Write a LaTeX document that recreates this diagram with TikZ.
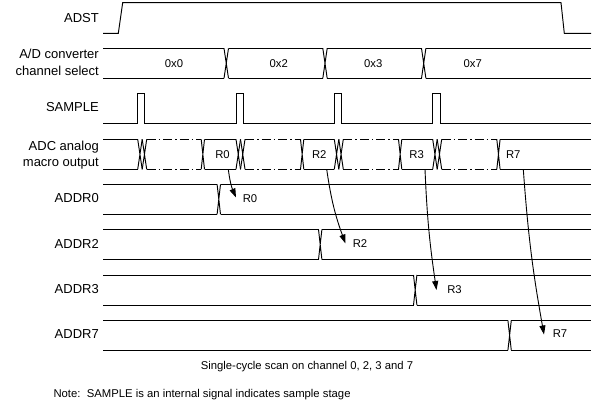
\documentclass[tikz,border=0pt]{standalone}
\usepackage{fontspec}
\setmainfont{Liberation Sans}
\usetikzlibrary{arrows.meta}
\newcommand\xcr[4]{\draw[sig] (#1,#3) -- (#2,#4) (#1,#4) -- (#2,#3);}
\begin{document}
\begin{tikzpicture}[x=1pt,y=-1pt,
  sig/.style={line width=0.95pt, black},
  dd/.style={sig, dash pattern=on 9pt off 3pt on 1.5pt off 3pt},
  lab/.style={font=\fontsize{13}{16}\selectfont, inner sep=0pt, align=right},
  sm/.style={font=\fontsize{11.3}{13}\selectfont, inner sep=0pt},
  arr/.style={line width=0.9pt, -{Triangle[length=9pt,width=6pt]}}]
\useasboundingbox (0,0) rectangle (616,409);

% ---------- labels ----------
\node[lab, anchor=base east] (lADST) at (99,22.5) {ADST};
\node[lab, anchor=base east] (lCH1) at (99,59) {A/D converter};
\node[lab, anchor=base east] (lCH2) at (99,75.5) {channel select};
\node[lab, anchor=base east] (lSAMP) at (99,112) {SAMPLE};
\node[lab, anchor=base east] (lADC1) at (99,151) {ADC analog};
\node[lab, anchor=base east] (lADC2) at (99,167) {macro output};
\node[lab, anchor=base east] (lA0) at (99,203) {ADDR0};
\node[lab, anchor=base east] (lA2) at (99,248) {ADDR2};
\node[lab, anchor=base east] (lA3) at (99,293) {ADDR3};
\node[lab, anchor=base east] (lA7) at (99,338) {ADDR7};

% ---------- ADST ----------
\draw[sig] (103,33.3) -- (118.3,33.3) -- (122.7,2.7) -- (561,2.7) -- (564.3,33.3) -- (591,33.3);

% ---------- channel select ----------
\foreach \a/\b in {103/224, 228.5/322.8, 327.2/421.5, 425.9/591}
  \draw[sig] (\a,48.3) -- (\b,48.3) (\a,78.3) -- (\b,78.3);
\foreach \a/\b in {224/228.5, 322.8/327.2, 421.5/425.9}
  {\xcr{\a}{\b}{48.3}{78.3}}
\node[sm, anchor=base] (c0) at (174,67.3) {0x0};
\node[sm, anchor=base] (c2) at (278.7,67.3) {0x2};
\node[sm, anchor=base] (c3) at (373.3,67.3) {0x3};
\node[sm, anchor=base] (c7) at (472.7,67.3) {0x7};

% ---------- SAMPLE ----------
\draw[sig] (103,123.3) -- (137.7,123.3) -- (137.7,93.3) -- (144.7,93.3) -- (144.7,123.3)
  -- (236,123.3) -- (236,93.3) -- (243.3,93.3) -- (243.3,123.3)
  -- (334.3,123.3) -- (334.3,93.3) -- (341.7,93.3) -- (341.7,123.3)
  -- (432.7,123.3) -- (432.7,93.3) -- (440,93.3) -- (440,123.3) -- (591,123.3);

% ---------- ADC analog macro output ----------
\foreach \a/\b in {103/137.7, 204.5/236, 303.8/334.3, 401.8/432.7, 500/591}
  \draw[sig] (\a,139.3) -- (\b,139.3) (\a,169.3) -- (\b,169.3);
\foreach \p/\q in {137.7/201.2, 236/300.5, 334.3/398.5, 432.7/496.8}{
  \xcr{\p}{\p+4.5}{139.3}{169.3}
  \xcr{\p+4.5}{\p+9}{139.3}{169.3}
  \draw[dd] (\p+9,139.3) -- (\q,139.3) (\p+9,169.3) -- (\q,169.3);
  \xcr{\q}{\q+3.3}{139.3}{169.3}
}
\node[sm, anchor=base] (r0) at (222.5,158.3) {R0};
\node[sm, anchor=base] (r2) at (319.3,158.3) {R2};
\node[sm, anchor=base] (r3) at (416.7,158.3) {R3};
\node[sm, anchor=base] (r7) at (513.3,158.3) {R7};

% ---------- ADDR rows ----------
\foreach \t/\b/\x in {184.3/214.3/218.8, 229.5/259.5/320.2, 275/305/415.2, 320.3/350.3/509.6}{
  \draw[sig] (103,\t) -- (\x-1.7,\t) (\x+1.7,\t) -- (591,\t)
             (103,\b) -- (\x-1.7,\b) (\x+1.7,\b) -- (591,\b);
  \xcr{\x-1.7}{\x+1.7}{\t}{\b}
}
\node[sm, anchor=base] (o0) at (250,202) {R0};
\node[sm, anchor=base] (o2) at (360,247) {R2};
\node[sm, anchor=base] (o3) at (454.5,293.2) {R3};
\node[sm, anchor=base] (o7) at (560,337.3) {R7};

% ---------- arrows ----------
\coordinate (s0) at (228.3,169.3); \coordinate (e0) at (236,197.5);
\coordinate (s2) at (326.7,169.3); \coordinate (e2) at (345.5,243.5);
\coordinate (s3) at (425,169.3);   \coordinate (e3) at (436.5,290);
\coordinate (s7) at (523.3,169.3); \coordinate (e7) at (544,334.5);
\draw[arr] (s0) to[bend right=8] (e0);
\draw[arr] (s2) to[bend right=6] (e2);
\draw[arr] (s3) to[bend right=3] (e3);
\draw[arr] (s7) to[bend right=3] (e7);

% ---------- captions ----------
\node[sm, anchor=base] (cap) at (307,369) {Single-cycle scan on channel 0, 2, 3 and 7};
\node[sm, anchor=base west] (note) at (53.3,397) {Note:\ \ SAMPLE is an internal signal indicates sample stage};
\end{tikzpicture}
\end{document}
